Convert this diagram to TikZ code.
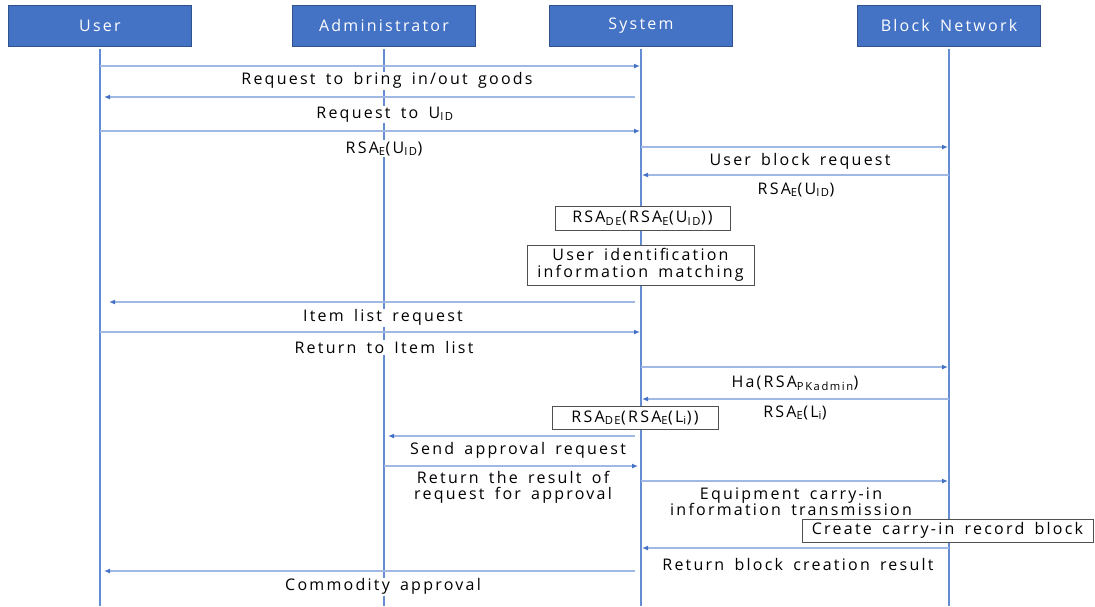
\documentclass[tikz,border=0pt]{standalone}
\usepackage{fontspec}
\setmainfont{Open Sans}[LetterSpace=14,WordSpace=1.6]
\usetikzlibrary{arrows.meta, positioning}
\definecolor{HeadBlue}{RGB}{68,114,196}
\definecolor{EdgeBlue}{RGB}{47,82,143}
\definecolor{LifeBlue}{RGB}{100,140,210}
\definecolor{MsgBlue}{RGB}{160,185,228}
\definecolor{NoteGray}{RGB}{80,80,80}
\newcommand{\sub}[1]{\textsubscript{#1}}
\tikzset{
  actor/.style={rectangle, minimum width=183pt, minimum height=41pt,
    fill=HeadBlue, draw=EdgeBlue, line width=0.8pt, text=white,
    font=\fontsize{16}{19}\selectfont},
  life/.style={draw=LifeBlue, line width=1.3pt},
  msg/.style={draw=MsgBlue, line width=2pt,
    -{Latex[length=6pt,width=5pt,color=HeadBlue]}, shorten >=1pt},
  back/.style={msg, shorten <=6pt, shorten >=4pt},
  lbl/.style={fill=white, inner sep=1pt, text=black, align=center,
    font=\fontsize{16}{16.5}\selectfont, yshift=-1.5pt},
  note/.style={rectangle, draw=NoteGray, fill=white, line width=0.9pt,
    inner sep=0pt, align=center, font=\fontsize{16}{16.5}\selectfont},
}
\begin{document}
\begin{tikzpicture}[x=1pt, y=-1pt]
  \useasboundingbox (0,0) rectangle (1095,606);
  % actors and lifelines
  \node[actor] (user) at (100,25.5) {User};
  \node[actor] (admin) at (384,25.5) {Administrator};
  \node[actor] (sys) at (641,25.5) {System};
  \node[actor] (bnet) at (949,25.5) {Block Network};
  \foreach \a in {user,admin,sys,bnet}
    \draw[life] ([yshift=-3pt]\a.south) -- (\a |- 0,606);
  % messages
  \draw[msg] (user |- 0,66) -- (sys |- 0,66);
  \draw[back] (sys |- 0,97) -- (user |- 0,97);
  \draw[msg] (user |- 0,131) -- (sys |- 0,131);
  \draw[msg] (sys |- 0,147) -- (bnet |- 0,147);
  \draw[msg] (bnet |- 0,175) -- (sys |- 0,175);
  \draw[back, shorten >=9pt] (sys |- 0,302) -- (user |- 0,302);
  \draw[msg] (user |- 0,332) -- (sys |- 0,332);
  \draw[msg] (sys |- 0,367) -- (bnet |- 0,367);
  \draw[msg] (bnet |- 0,399) -- (sys |- 0,399);
  \draw[back] (sys |- 0,436) -- (admin |- 0,436);
  \draw[msg, shorten >=3pt] (admin |- 0,466) -- (sys |- 0,466);
  \draw[msg] (sys |- 0,481) -- (bnet |- 0,481);
  \draw[msg] (bnet |- 0,548) -- (sys |- 0,548);
  \draw[back] (sys |- 0,571) -- (user |- 0,571);
  % labels
  \node[lbl] (m1) at (387,79) {Request to bring in/out goods};
  \node[lbl] (m2) at (385,113) {Request to U\sub{ID}};
  \node[lbl] (m3) at (384,147) {RSA\sub{E}(U\sub{ID})};
  \node[lbl] (m4) at (800,160) {User block request};
  \node[lbl] (m5) at (796,188) {RSA\sub{E}(U\sub{ID})};
  \node[lbl] (m6) at (383,316) {Item list request};
  \node[lbl] (m7) at (384,346) {Return to Item list};
  \node[lbl] (m8) at (795,382) {Ha(RSA\sub{PKadmin})};
  \node[lbl] (m9) at (795,411) {RSA\sub{E}(L\sub{i})};
  \node[lbl] (m10) at (518,449) {Send approval request};
  \node[lbl] (m11) at (513,486) {Return the result of\\request for approval};
  \node[lbl] (m12) at (791,500) {Equipment carry-in\\information transmission};
  \node[lbl] (m13) at (798,563) {Return block creation result};
  \node[lbl] (m14) at (383,585) {Commodity approval};
  % notes on lifelines
  \node[note, minimum width=175pt, minimum height=24pt] (n1) at (642.5,218)
    {RSA\sub{DE}(RSA\sub{E}(U\sub{ID}))};
  \node[note, minimum width=227pt, minimum height=40pt] (n2) at (640.5,265)
    {User identification\\information matching};
  \node[note, minimum width=166pt, minimum height=23pt] (n3) at (635,417.5)
    {RSA\sub{DE}(RSA\sub{E}(L\sub{i}))};
  \node[note, minimum width=291pt, minimum height=23pt] (n4) at (947.5,530.5)
    {Create carry-in record block};
\end{tikzpicture}
\end{document}
